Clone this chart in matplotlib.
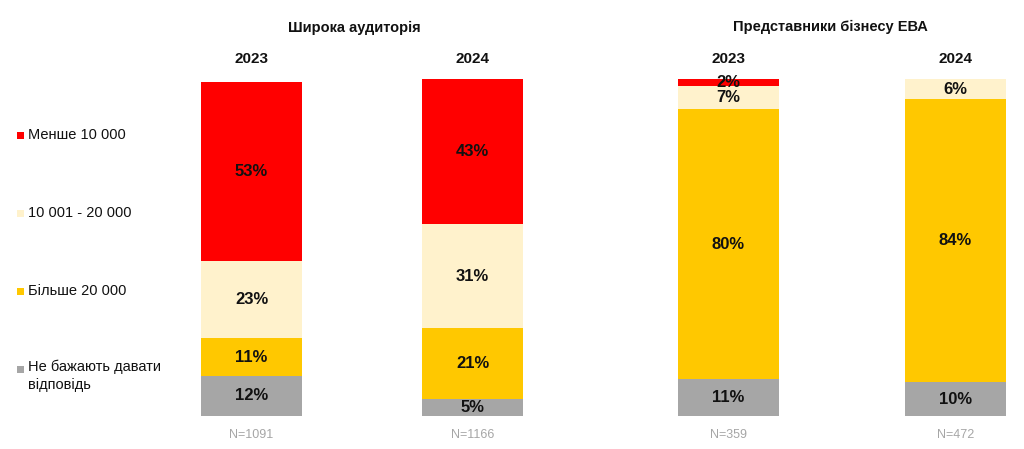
import matplotlib.pyplot as plt
from matplotlib.patches import Rectangle

plt.rcParams["font.family"] = ["Liberation Sans", "DejaVu Sans"]

# data
years = ["2023", "2024", "2023", "2024"]
sample_sizes = ["N=1091", "N=1166", "N=359", "N=472"]
categories = ["Не бажають давати\nвідповідь", "Більше 20 000", "10 001 - 20 000", "Менше 10 000"]
no_answer = [12, 5, 11, 10]
over_20k = [11, 21, 80, 84]
from_10k_20k = [23, 31, 7, 6]
under_10k = [53, 43, 2, 0]
group_titles = ["Широка аудиторія", "Представники бізнесу ЕВА"]

colors = ["#A6A6A6", "#FFC800", "#FFF2CC", "#FF0000"]
series = [no_answer, over_20k, from_10k_20k, under_10k]

W, H = 1024, 449
fig = plt.figure(figsize=(W / 100, H / 100), dpi=100)
ax = fig.add_axes([0, 33 / H, 1, 337 / H])

unit = 101.0
xs = [0, 2.19, 4.72, 6.97]
ax.set_xlim(-251.5 / unit, (W - 251.5) / unit)
ax.set_ylim(0, 100)

bottoms = [0] * len(xs)
for vals, col in zip(series, colors):
    ax.bar(xs, vals, bottom=bottoms, width=1.0, color=col, edgecolor="none")
    for x, v, b in zip(xs, vals, bottoms):
        if v > 0:
            ax.text(x, b + v / 2, f"{v}%", ha="center", va="center",
                    fontsize=12, fontweight="bold", color="#111111")
    bottoms = [b + v for b, v in zip(bottoms, vals)]

for x, yr, n in zip(xs, years, sample_sizes):
    ax.text(x, 106, yr, ha="center", va="center", fontsize=11,
            fontweight="bold", color="#111111", clip_on=False)
    ax.text(x, -5.5, n, ha="center", va="center", fontsize=9,
            color="#A6A6A6", clip_on=False)

ax.text(1.02, 115, group_titles[0], ha="center", va="center",
        fontsize=10.5, fontweight="bold", color="#111111", clip_on=False)
ax.text(5.73, 115.5, group_titles[1], ha="center", va="center",
        fontsize=10.5, fontweight="bold", color="#111111", clip_on=False)
ax.axis("off")

# legend on the left
legend_y = [135, 213, 291, 369]
for label, col, py in zip(categories[::-1], colors[::-1], legend_y):
    fig.patches.append(Rectangle((17 / W, 1 - (py + 4) / H), 7 / W, 7 / H,
                                 transform=fig.transFigure, facecolor=col,
                                 edgecolor="none"))
    fig.text(28 / W, 1 - py / H, label, ha="left", va="top" if "\n" in label else "center",
             fontsize=10.5, color="#111111", linespacing=1.3)

fig.texts[-1].set_y(1 - 360 / H)

plt.savefig("out.png", dpi=100, facecolor="white")
plt.close()
